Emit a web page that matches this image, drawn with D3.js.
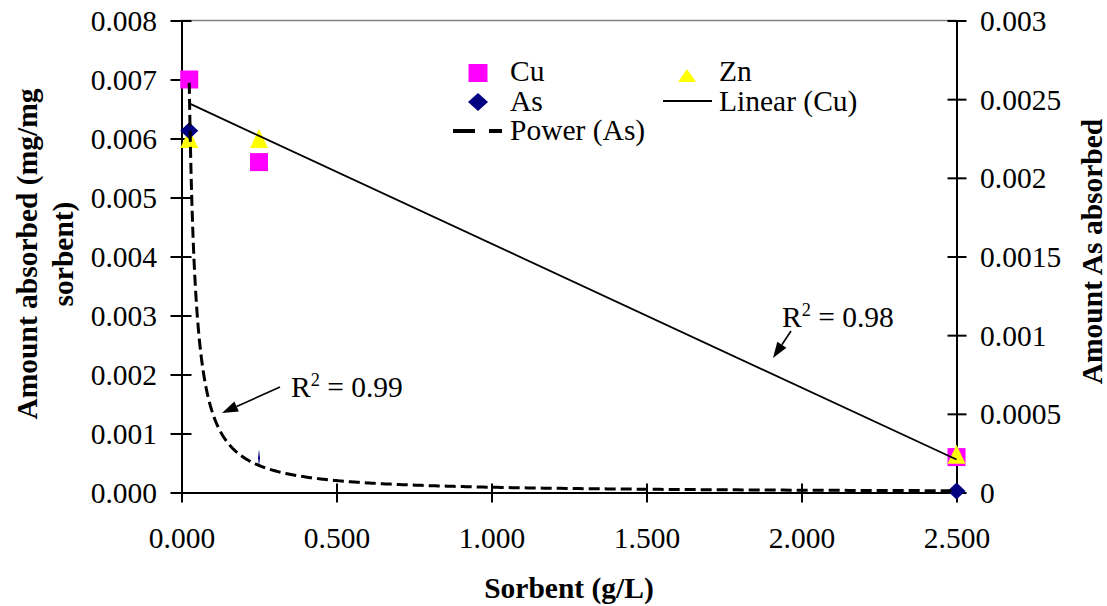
<!DOCTYPE html>
<html>
<head>
<meta charset="utf-8">
<script src="https://cdn.jsdelivr.net/npm/d3@7"></script>
<style>
  body { margin: 0; background: #fff; }
  svg { display: block; }
  svg text { font-family: "Liberation Serif", "Times New Roman", Times, serif; fill: #000; }
</style>
</head>
<body>
<svg id="chart" width="1107" height="606"></svg>
<script>
// Sorbent dose (g/L) and amount absorbed per series
const sorbent = [0.025, 0.25, 2.5];
const cu = [0.007, 0.0056, 0.0006];      // left axis
const zn = [0.006, 0.006, 0.00065];      // left axis
const as = [0.0023, 0.00022, 0.00001];   // right axis

const xTicks = [0, 0.5, 1, 1.5, 2, 2.5];
const xTickLabels = ["0.000", "0.500", "1.000", "1.500", "2.000", "2.500"];
const yTicks = [0, 0.001, 0.002, 0.003, 0.004, 0.005, 0.006, 0.007, 0.008];
const yTickLabels = ["0.000", "0.001", "0.002", "0.003", "0.004", "0.005", "0.006", "0.007", "0.008"];
const y2Ticks = [0, 0.0005, 0.001, 0.0015, 0.002, 0.0025, 0.003];
const y2TickLabels = ["0", "0.0005", "0.001", "0.0015", "0.002", "0.0025", "0.003"];

const legendLabels = ["Cu", "Zn", "As", "Linear (Cu)", "Power (As)"];
const r2Labels = ["0.99", "0.98"];

const SERIF = '"Liberation Serif", "Times New Roman", Times, serif';
const svg = d3.select("#chart").style("font-family", SERIF);
const FS = 29.5;

const plot = { left: 181.5, right: 956.5, top: 20.5, bottom: 492.5 };
const x = d3.scaleLinear().domain([0, 2.5]).range([plot.left, plot.right]);
const y = d3.scaleLinear().domain([0, 0.008]).range([plot.bottom, plot.top]);
const y2 = d3.scaleLinear().domain([0, 0.003]).range([plot.bottom, plot.top]);

// ---- trendline fits (least squares; power fit in log space) ----
function linearFit(xs, ys) {
  const mx = d3.mean(xs), my = d3.mean(ys);
  let sxy = 0, sxx = 0;
  xs.forEach((v, i) => { sxy += (v - mx) * (ys[i] - my); sxx += (v - mx) ** 2; });
  const m = sxy / sxx;
  return { m, c: my - m * mx };
}
function powerFit(xs, ys) {
  const lf = linearFit(xs.map(Math.log), ys.map(Math.log));
  return { a: Math.exp(lf.c), b: lf.m };
}
const cuFit = linearFit(sorbent, cu);
const asFit = powerFit(sorbent, as);

// ---- top border ----
svg.append("line")
  .attr("x1", plot.left).attr("x2", plot.right)
  .attr("y1", plot.top).attr("y2", plot.top)
  .attr("stroke", "#808080").attr("stroke-width", 1.5);

// ---- axes ----
function styleAxis(g) {
  g.attr("font-family", null).attr("font-size", null);
  g.select(".domain").attr("stroke", "#000").attr("stroke-width", 2);
  g.selectAll(".tick line").remove();
  g.selectAll(".tick text").remove();
}
const gx = svg.append("g").attr("transform", `translate(0,${plot.bottom})`)
  .call(d3.axisBottom(x).tickValues(xTicks).tickSize(0));
styleAxis(gx);
gx.selectAll(".tick").append("line")
  .attr("y1", -9).attr("y2", 10).attr("stroke", "#000").attr("stroke-width", 2);
gx.selectAll(".tick").append("text")
  .attr("y", 55).attr("text-anchor", "middle")
  .style("font-family", SERIF).style("font-size", FS + "px")
  .text((d, i) => xTickLabels[i]);

const gy = svg.append("g").attr("transform", `translate(${plot.left},0)`)
  .call(d3.axisLeft(y).tickValues(yTicks).tickSize(0));
styleAxis(gy);
gy.selectAll(".tick").append("line")
  .attr("x1", -11).attr("x2", 10).attr("stroke", "#000").attr("stroke-width", 2);
gy.selectAll(".tick").append("text")
  .attr("x", -24.5).attr("y", 10).attr("text-anchor", "end")
  .style("font-family", SERIF).style("font-size", FS + "px")
  .text((d, i) => yTickLabels[i]);

const gy2 = svg.append("g").attr("transform", `translate(${plot.right},0)`)
  .call(d3.axisRight(y2).tickValues(y2Ticks).tickSize(0));
styleAxis(gy2);
gy2.selectAll(".tick").append("line")
  .attr("x1", -9).attr("x2", 10).attr("stroke", "#000").attr("stroke-width", 2);
gy2.selectAll(".tick").append("text")
  .attr("x", 23.5).attr("y", 10).attr("text-anchor", "start")
  .style("font-family", SERIF).style("font-size", FS + "px")
  .text((d, i) => y2TickLabels[i]);

// ---- axis titles ----
function title(transform, label) {
  svg.append("text")
    .attr("transform", transform)
    .attr("text-anchor", "middle")
    .style("font-family", SERIF).style("font-size", FS + "px").style("font-weight", "bold")
    .text(label);
}
title("translate(37,254) rotate(-90)", "Amount absorbed (mg/mg");
title("translate(73,254) rotate(-90)", "sorbent)");
title("translate(1102,251.5) rotate(-90)", "Amount As absorbed");
title(`translate(${(plot.left + plot.right) / 2},598)`, "Sorbent (g/L)");

// ---- marker shapes ----
const squarePath = (w, h) => `M${-w/2},${-h/2}H${w/2}V${h/2}H${-w/2}Z`;
const trianglePath = (w, h) => `M0,${-h/2}L${w/2},${h/2}H${-w/2}Z`;
const diamondPath = (w, h) => `M0,${-h/2}L${w/2},0L0,${h/2}L${-w/2},0Z`;

const marks = svg.append("g");
// Cu
marks.selectAll(".cu").data(sorbent).join("path")
  .attr("class", "cu")
  .attr("transform", (d, i) => `translate(${x(d)},${y(cu[i])})`)
  .attr("d", squarePath(18, 18)).attr("fill", "#FF00FF");
// Zn
marks.selectAll(".zn").data(sorbent).join("path")
  .attr("class", "zn")
  .attr("transform", (d, i) => `translate(${x(d)},${y(zn[i])})`)
  .attr("d", trianglePath(18, 19)).attr("fill", "#FFFF00");
// As (secondary axis); the middle point renders as a hairline diamond
marks.selectAll(".as").data(sorbent).join("path")
  .attr("class", "as")
  .attr("transform", (d, i) => `translate(${x(d)},${y2(as[i])})`)
  .attr("d", (d, i) => diamondPath(i === 1 ? 2 : 18, 17)).attr("fill", "#000080");

// ---- trendlines ----
const lineGen = d3.line();
const x0 = d3.min(sorbent), x1 = d3.max(sorbent);
svg.append("path")
  .attr("d", lineGen([[x(x0), y(cuFit.m * x0 + cuFit.c)], [x(x1), y(cuFit.m * x1 + cuFit.c)]]))
  .attr("fill", "none").attr("stroke", "#000").attr("stroke-width", 1.8);

const powerXs = d3.range(0, 401).map(k => x0 * Math.pow(x1 / x0, k / 400));
svg.append("path")
  .attr("d", lineGen(powerXs.map(v => [x(v), y2(asFit.a * Math.pow(v, asFit.b))])))
  .attr("fill", "none").attr("stroke", "#000").attr("stroke-width", 3)
  .attr("stroke-dasharray", "11,5");

// ---- legend ----
const lg = svg.append("g");
lg.append("path").attr("transform", "translate(478,73)").attr("d", squarePath(19, 18)).attr("fill", "#FF00FF");
lg.append("path").attr("transform", "translate(687,75.5)").attr("d", trianglePath(18, 13)).attr("fill", "#FFFF00");
lg.append("path").attr("transform", "translate(478,102)").attr("d", diamondPath(20, 18)).attr("fill", "#000080");
lg.append("line").attr("x1", 663).attr("x2", 712).attr("y1", 101).attr("y2", 101)
  .attr("stroke", "#000").attr("stroke-width", 2);
lg.append("line").attr("x1", 453).attr("x2", 502).attr("y1", 131).attr("y2", 131)
  .attr("stroke", "#000").attr("stroke-width", 4).attr("stroke-dasharray", "22,14");
const legendPos = [[510, 81], [719, 81], [510, 111], [719, 111], [510, 140]];
lg.selectAll("text.leg").data(legendLabels).join("text")
  .attr("class", "leg")
  .attr("x", (d, i) => legendPos[i][0]).attr("y", (d, i) => legendPos[i][1])
  .style("font-family", SERIF).style("font-size", FS + "px").text(d => d);

// ---- R² annotations ----
function arrow(fromX, fromY, toX, toY) {
  const ang = Math.atan2(toY - fromY, toX - fromX);
  const len = 16, half = 5.5;
  const bx = toX - len * Math.cos(ang), by = toY - len * Math.sin(ang);
  svg.append("line").attr("x1", fromX).attr("y1", fromY).attr("x2", bx).attr("y2", by)
    .attr("stroke", "#000").attr("stroke-width", 1.6);
  const px = -Math.sin(ang) * half, py = Math.cos(ang) * half;
  svg.append("path")
    .attr("d", `M${toX},${toY}L${bx + px},${by + py}L${bx - px},${by - py}Z`)
    .attr("fill", "#000");
}
function r2Label(tx, ty, val) {
  const t = svg.append("text").attr("x", tx).attr("y", ty)
    .style("font-family", SERIF).style("font-size", FS + "px");
  t.append("tspan").text("R");
  t.append("tspan").attr("dy", -11).style("font-size", (FS * 0.62) + "px").text("2");
  t.append("tspan").attr("dy", 11).text(" = " + val);
}
r2Label(291, 397, r2Labels[0]);
arrow(280, 387, 222, 413);
r2Label(782, 327, r2Labels[1]);
arrow(791, 331, 773, 358);
</script>
</body>
</html>
